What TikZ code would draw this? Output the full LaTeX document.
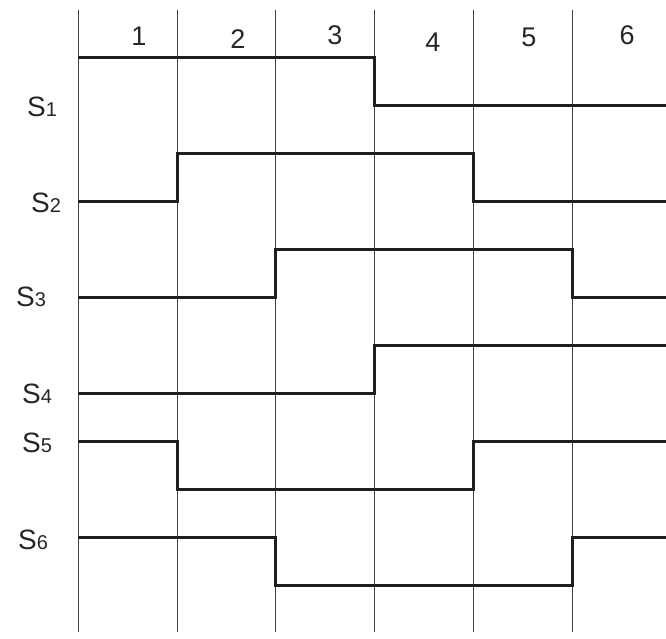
\documentclass[tikz,border=0pt]{standalone}
\usepackage{fontspec}
\setmainfont{Liberation Sans}
\begin{document}
\begin{tikzpicture}[x=1pt,y=-1pt,
  grid/.style={draw=black!75,line width=1pt},
  wave/.style={draw=black!88,line width=3pt,line join=miter},
  num/.style={inner sep=0pt,font=\fontsize{27}{27}\selectfont,text=black!85},
  sig/.style={inner sep=0pt,text=black!85}]
\useasboundingbox (0,0) rectangle (666,638);
\fill[white] (0,0) rectangle (666,638);
% vertical grid lines
\foreach \x/\n in {78/a,177/b,275/c,374/d,473/e,572/f}{
  \coordinate (t\n) at (\x,10);
  \coordinate (b\n) at (\x,632);
  \draw[grid] (t\n) -- (b\n);
}
% column numbers
\node[num] (n1) at (139,36) {1};
\node[num] (n2) at (238,39) {2};
\node[num] (n3) at (335,35) {3};
\node[num] (n4) at (433,42) {4};
\node[num] (n5) at (529,37) {5};
\node[num] (n6) at (627,35) {6};
% signal labels
\newcommand{\sglab}[1]{{\fontsize{28}{28}\selectfont S}{\fontsize{20}{20}\selectfont #1}}
\node[sig] (l1) at (42,107) {\sglab{1}};
\node[sig] (l2) at (46,203) {\sglab{2}};
\node[sig] (l3) at (31,297) {\sglab{3}};
\node[sig] (l4) at (37,394) {\sglab{4}};
\node[sig] (l5) at (37,443) {\sglab{5}};
\node[sig] (l6) at (33,540) {\sglab{6}};
% waveforms
\draw[wave] (78,57) -- (374,57) -- (374,105) -- (666,105);
\draw[wave] (78,201) -- (177,201) -- (177,153) -- (473,153) -- (473,201) -- (666,201);
\draw[wave] (78,297) -- (275,297) -- (275,249) -- (572,249) -- (572,297) -- (666,297);
\draw[wave] (78,393) -- (374,393) -- (374,345) -- (666,345);
\draw[wave] (78,441) -- (177,441) -- (177,489) -- (473,489) -- (473,441) -- (666,441);
\draw[wave] (78,537) -- (275,537) -- (275,585) -- (572,585) -- (572,537) -- (666,537);
\end{tikzpicture}
\end{document}
